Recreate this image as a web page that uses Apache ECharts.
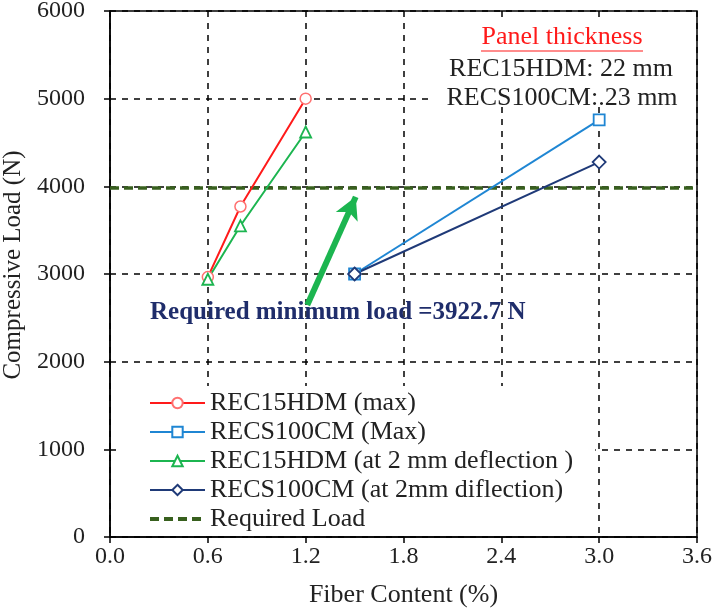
<!DOCTYPE html>
<html>
<head>
<meta charset="utf-8">
<script src="https://cdn.jsdelivr.net/npm/echarts@6/dist/echarts.min.js"></script>
<style>
  html, body { margin: 0; padding: 0; background: #fff; }
  #chart { width: 713px; height: 611px; }
</style>
</head>
<body>
<div id="chart"></div>
<script>
// values
var recHdmMaxX = [0.6, 0.8, 1.2];
var recHdmMaxY = [2965, 3770, 5000];
var recsMaxX = [1.5, 3.0];
var recsMaxY = [3000, 4757];
var recHdm2mmX = [0.6, 0.8, 1.2];
var recHdm2mmY = [2940, 3550, 4620];
var recs2mmX = [1.5, 3.0];
var recs2mmY = [3000, 4277];
var requiredLoadX = [0, 3.6];
var requiredLoadY = [3980, 3980];

var seriesNames = [
    'REC15HDM (max)',
    'RECS100CM (Max)',
    'REC15HDM (at 2 mm deflection )',
    'RECS100CM (at 2mm diflection)',
    'Required Load'
];

function pairs(xs, ys) {
    return xs.map(function (x, i) { return [x, ys[i]]; });
}

var serif = '"Liberation Serif", "DejaVu Serif", serif';
var reqColor = '#38601e';

var chart = echarts.init(document.getElementById('chart'));

var option = {
    animation: false,
    grid: {
        left: 110, right: 16, top: 11, bottom: 74,
        outerBoundsMode: 'none',
        show: true, borderColor: '#000', borderWidth: 1.5,
        backgroundColor: 'transparent'
    },
    xAxis: {
        type: 'value',
        min: 0, max: 3.6, interval: 0.6,
        name: 'Fiber Content (%)',
        nameLocation: 'middle',
        nameGap: 45,
        nameTextStyle: { fontFamily: serif, fontSize: 26, color: '#222' },
        axisLine: { lineStyle: { color: '#000', width: 1.5 } },
        axisTick: { show: true, length: 6, lineStyle: { color: '#000', width: 1.5 } },
        axisLabel: {
            fontFamily: serif, fontSize: 24, color: '#222', margin: 8,
            formatter: function (v) { return v.toFixed(1); }
        },
        splitLine: { show: true, lineStyle: { color: '#000', width: 1.5, type: [6, 6] } }
    },
    yAxis: {
        type: 'value',
        min: 0, max: 6000, interval: 1000,
        name: 'Compressive Load (N)',
        nameLocation: 'middle',
        nameGap: 82,
        nameTextStyle: { fontFamily: serif, fontSize: 25, color: '#222', padding: [0, 0, 0, 18] },
        axisLine: { show: true, lineStyle: { color: '#000', width: 1.5 } },
        axisTick: { show: true, length: 6, lineStyle: { color: '#000', width: 1.5 } },
        axisLabel: {
            fontFamily: serif, fontSize: 24, color: '#222', margin: 25,
            formatter: function (v) { return String(v); }
        },
        splitLine: { show: true, lineStyle: { color: '#000', width: 1.5, type: [6, 6] } }
    },
    legend: {
        orient: 'vertical',
        left: 118, top: 386,
        padding: [4, 22, 2, 30],
        backgroundColor: '#fff',
        itemWidth: 55, itemHeight: 13,
        itemGap: 3,
        textStyle: { fontFamily: serif, fontSize: 26, color: '#222' },
        data: [
            seriesNames[0], seriesNames[1], seriesNames[2], seriesNames[3],
            {
                name: seriesNames[4],
                itemStyle: { opacity: 0 },
                lineStyle: { color: reqColor, width: 4, type: [9, 5] }
            }
        ]
    },
    series: [
        {
            name: seriesNames[0], type: 'line',
            data: pairs(recHdmMaxX, recHdmMaxY),
            symbol: 'circle', symbolSize: 11,
            lineStyle: { color: '#ff1a1a', width: 2 },
            itemStyle: { color: '#fff', borderColor: '#ff7070', borderWidth: 1.5 },
            z: 5
        },
        {
            name: seriesNames[1], type: 'line',
            data: pairs(recsMaxX, recsMaxY),
            symbol: 'rect', symbolSize: 11,
            lineStyle: { color: '#1f86d3', width: 2 },
            itemStyle: { color: '#fff', borderColor: '#1f86d3', borderWidth: 1.8 },
            z: 5
        },
        {
            name: seriesNames[2], type: 'line',
            data: pairs(recHdm2mmX, recHdm2mmY),
            symbol: 'triangle', symbolSize: 11,
            lineStyle: { color: '#1cb550', width: 2 },
            itemStyle: { color: '#fff', borderColor: '#1cb550', borderWidth: 1.8 },
            z: 5
        },
        {
            name: seriesNames[3], type: 'line',
            data: pairs(recs2mmX, recs2mmY),
            symbol: 'diamond', symbolSize: 13,
            lineStyle: { color: '#1f3a78', width: 2 },
            itemStyle: { color: '#fff', borderColor: '#1f3a78', borderWidth: 1.8 },
            z: 5
        },
        {
            name: seriesNames[4], type: 'line',
            data: pairs(requiredLoadX, requiredLoadY),
            symbol: 'none',
            lineStyle: { color: reqColor, width: 3.5, type: [9, 5] },
            itemStyle: { color: reqColor },
            z: 4,
            markLine: {
                silent: true,
                symbol: ['none', 'arrow'],
                symbolSize: [18, 22],
                label: { show: false },
                lineStyle: { color: '#1cb550', width: 6, type: 'solid' },
                data: [[{ coord: [1.21, 2646] }, { coord: [1.507, 3880] }]]
            }
        }
    ],
    graphic: [
        {
            type: 'rect', z: 1,
            shape: { x: 428, y: 22, width: 266, height: 82 },
            style: { fill: '#fff' }
        },
        {
            type: 'text', x: 562, y: 37, z: 2,
            style: { text: 'Panel thickness', font: '26px ' + serif, fill: '#ff1a1a', align: 'center', verticalAlign: 'middle' }
        },
        {
            type: 'line', z: 2,
            shape: { x1: 481, y1: 51, x2: 643, y2: 51 },
            style: { stroke: '#ff1a1a', lineWidth: 1.2 }
        },
        {
            type: 'text', x: 561, y: 69, z: 2,
            style: { text: 'REC15HDM: 22 mm', font: '26px ' + serif, fill: '#222', align: 'center', verticalAlign: 'middle' }
        },
        {
            type: 'text', x: 562, y: 98, z: 2,
            style: { text: 'RECS100CM:.23 mm', font: '26px ' + serif, fill: '#222', align: 'center', verticalAlign: 'middle' }
        },
        {
            type: 'text', x: 150, y: 313, z: 2,
            style: { text: 'Required minimum load =3922.7 N', font: 'bold 25px ' + serif, fill: '#1f2d6b', verticalAlign: 'middle' }
        }
    ]
};

chart.setOption(option);
</script>
</body>
</html>
